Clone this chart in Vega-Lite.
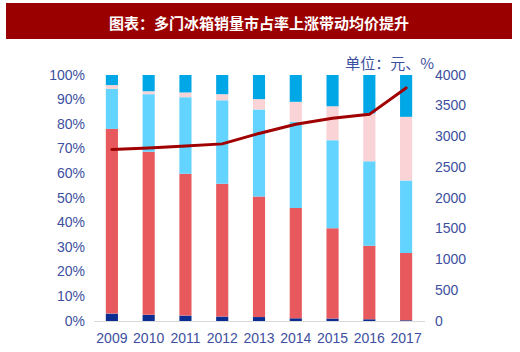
{
  "$schema": "https://vega.github.io/schema/vega-lite/v6.json",
  "background": "#ffffff",
  "autosize": {"type": "pad"},
  "padding": {"left": 6, "top": 3, "right": 0, "bottom": 0},
  "spacing": 36,
  "bounds": "flush",
  "center": true,
  "config": {
    "view": {"stroke": null},
    "axis": {"labelFont": "Liberation Sans Narrow, Liberation Sans, Arial", "labelFontSize": 14, "labelColor": "#3D4FA0", "ticks": false, "grid": false, "domain": false}
  },
  "datasets": {
    "share": [
      {"year": "2009", "seg": "单门", "rank": 1, "pct": 3.0},
      {"year": "2009", "seg": "双门", "rank": 2, "pct": 75.1},
      {"year": "2009", "seg": "三门", "rank": 3, "pct": 16.3},
      {"year": "2009", "seg": "对开门", "rank": 4, "pct": 1.5},
      {"year": "2009", "seg": "多门", "rank": 5, "pct": 4.1},
      {"year": "2010", "seg": "单门", "rank": 1, "pct": 2.5},
      {"year": "2010", "seg": "双门", "rank": 2, "pct": 66.3},
      {"year": "2010", "seg": "三门", "rank": 3, "pct": 23.4},
      {"year": "2010", "seg": "对开门", "rank": 4, "pct": 1.2},
      {"year": "2010", "seg": "多门", "rank": 5, "pct": 6.6},
      {"year": "2011", "seg": "单门", "rank": 1, "pct": 2.2},
      {"year": "2011", "seg": "双门", "rank": 2, "pct": 57.7},
      {"year": "2011", "seg": "三门", "rank": 3, "pct": 31.1},
      {"year": "2011", "seg": "对开门", "rank": 4, "pct": 1.9},
      {"year": "2011", "seg": "多门", "rank": 5, "pct": 7.1},
      {"year": "2012", "seg": "单门", "rank": 1, "pct": 1.8},
      {"year": "2012", "seg": "双门", "rank": 2, "pct": 54.0},
      {"year": "2012", "seg": "三门", "rank": 3, "pct": 33.9},
      {"year": "2012", "seg": "对开门", "rank": 4, "pct": 2.5},
      {"year": "2012", "seg": "多门", "rank": 5, "pct": 7.8},
      {"year": "2013", "seg": "单门", "rank": 1, "pct": 1.6},
      {"year": "2013", "seg": "双门", "rank": 2, "pct": 49.0},
      {"year": "2013", "seg": "三门", "rank": 3, "pct": 35.4},
      {"year": "2013", "seg": "对开门", "rank": 4, "pct": 4.2},
      {"year": "2013", "seg": "多门", "rank": 5, "pct": 9.8},
      {"year": "2014", "seg": "单门", "rank": 1, "pct": 1.1},
      {"year": "2014", "seg": "双门", "rank": 2, "pct": 44.8},
      {"year": "2014", "seg": "三门", "rank": 3, "pct": 35.1},
      {"year": "2014", "seg": "对开门", "rank": 4, "pct": 8.1},
      {"year": "2014", "seg": "多门", "rank": 5, "pct": 10.9},
      {"year": "2015", "seg": "单门", "rank": 1, "pct": 1.0},
      {"year": "2015", "seg": "双门", "rank": 2, "pct": 36.7},
      {"year": "2015", "seg": "三门", "rank": 3, "pct": 35.8},
      {"year": "2015", "seg": "对开门", "rank": 4, "pct": 13.8},
      {"year": "2015", "seg": "多门", "rank": 5, "pct": 12.7},
      {"year": "2016", "seg": "单门", "rank": 1, "pct": 0.7},
      {"year": "2016", "seg": "双门", "rank": 2, "pct": 29.9},
      {"year": "2016", "seg": "三门", "rank": 3, "pct": 34.3},
      {"year": "2016", "seg": "对开门", "rank": 4, "pct": 19.5},
      {"year": "2016", "seg": "多门", "rank": 5, "pct": 15.6},
      {"year": "2017", "seg": "单门", "rank": 1, "pct": 0.3},
      {"year": "2017", "seg": "双门", "rank": 2, "pct": 27.3},
      {"year": "2017", "seg": "三门", "rank": 3, "pct": 29.5},
      {"year": "2017", "seg": "对开门", "rank": 4, "pct": 25.9},
      {"year": "2017", "seg": "多门", "rank": 5, "pct": 17.0}
    ],
    "price": [
      {"year": "2009", "price": 2790},
      {"year": "2010", "price": 2815},
      {"year": "2011", "price": 2845},
      {"year": "2012", "price": 2880},
      {"year": "2013", "price": 3050},
      {"year": "2014", "price": 3200},
      {"year": "2015", "price": 3295},
      {"year": "2016", "price": 3360},
      {"year": "2017", "price": 3790}
    ]
  },
  "vconcat": [
    {
      "width": 506,
      "height": 36,
      "view": {"fill": "#9B0000", "stroke": null},
      "data": {"values": [{"t": "图表：多门冰箱销量市占率上涨带动均价提升"}]},
      "mark": {"type": "text", "font": "Noto Sans CJK SC", "fontWeight": "bold", "fontSize": 15, "color": "#ffffff", "align": "center", "baseline": "middle", "dy": 3},
      "encoding": {"text": {"field": "t"}}
    },
    {
      "width": 331,
      "height": 246,
      "encoding": {
        "x": {"field": "year", "type": "ordinal", "title": null,
          "scale": {"paddingInner": 0.67, "paddingOuter": 0.335},
          "axis": {"labelAngle": 0, "domain": true, "domainColor": "#D9D9D9", "domainWidth": 1, "labelPadding": 10}}
      },
      "layer": [
        {
          "data": {"name": "share"},
          "mark": {"type": "bar"},
          "encoding": {
            "y": {"field": "pct", "type": "quantitative", "stack": "zero", "title": null,
              "scale": {"domain": [0, 100], "nice": false},
              "axis": {"orient": "left", "values": [0,10,20,30,40,50,60,70,80,90,100], "labelExpr": "datum.value + '%'", "labelPadding": 9}},
            "color": {"field": "seg", "type": "nominal", "legend": null,
              "scale": {"domain": ["单门", "双门", "三门", "对开门", "多门"], "range": ["#0B2C90", "#E8595E", "#63D3FF", "#F9D3D5", "#00A7E6"]}},
            "order": {"field": "rank", "type": "quantitative", "sort": "ascending"}
          }
        },
        {
          "data": {"name": "price"},
          "mark": {"type": "line", "color": "#A00000", "strokeWidth": 3, "strokeCap": "round"},
          "encoding": {
            "y": {"field": "price", "type": "quantitative",
              "scale": {"domain": [0, 4000], "nice": false},
              "axis": {"orient": "right", "values": [0,500,1000,1500,2000,2500,3000,3500,4000], "format": "d", "labelPadding": 10,
                "title": "单位：元、%", "titleAngle": 0, "titleFont": "Noto Sans CJK SC", "titleFontSize": 15, "titleFontWeight": "normal", "titleColor": "#3D4FA0",
                "titleAlign": "right", "titleBaseline": "middle", "titleX": 9, "titleY": -12}}
          }
        }
      ],
      "resolve": {"scale": {"y": "independent"}}
    }
  ]
}
